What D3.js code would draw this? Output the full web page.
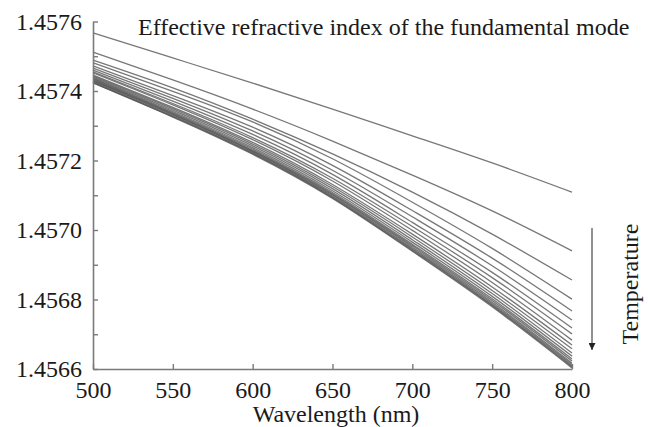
<!DOCTYPE html>
<html>
<head>
<meta charset="utf-8">
<script src="https://cdn.jsdelivr.net/npm/d3@7"></script>
<style>
  body{margin:0;background:#fff;}
  svg{display:block;font-family:"Liberation Serif","Times New Roman",serif;}
</style>
</head>
<body>
<svg id="chart"></svg>
<script>
const width=649;
const height=427;

// wavelengths (nm) at which each curve was read
const wavelengths=[500,550,600,650,700,750,800];

// effective index curves, top (lowest temperature) to bottom (highest)
const n0 =[1.457567,1.457495,1.457423,1.457348,1.457271,1.457193,1.457109];
const n1 =[1.457512,1.457432,1.457348,1.457256,1.457158,1.457055,1.456940];
const n2 =[1.457489,1.457409,1.457319,1.457219,1.457109,1.456988,1.456856];
const n3 =[1.457481,1.457399,1.457311,1.457205,1.457080,1.456947,1.456801];
const n4 =[1.457472,1.457387,1.457296,1.457186,1.457056,1.456919,1.456767];
const n5 =[1.457466,1.457379,1.457285,1.457172,1.457038,1.456897,1.456741];
const n6 =[1.457460,1.457371,1.457275,1.457160,1.457022,1.456878,1.456718];
const n7 =[1.457455,1.457364,1.457266,1.457149,1.457010,1.456863,1.456701];
const n8 =[1.457452,1.457360,1.457260,1.457141,1.456999,1.456849,1.456683];
const n9 =[1.457446,1.457353,1.457252,1.457131,1.456988,1.456836,1.456669];
const n10=[1.457443,1.457349,1.457247,1.457125,1.456980,1.456826,1.456658];
const n11=[1.457440,1.457345,1.457242,1.457119,1.456972,1.456817,1.456646];
const n12=[1.457437,1.457341,1.457237,1.457113,1.456965,1.456809,1.456637];
const n13=[1.457435,1.457338,1.457233,1.457108,1.456959,1.456802,1.456629];
const n14=[1.457432,1.457335,1.457229,1.457104,1.456955,1.456797,1.456623];
const n15=[1.457430,1.457333,1.457227,1.457101,1.456951,1.456792,1.456617];
const n16=[1.457429,1.457331,1.457225,1.457098,1.456947,1.456788,1.456613];
const n17=[1.457426,1.457328,1.457222,1.457095,1.456944,1.456784,1.456609];
const n18=[1.457424,1.457326,1.457220,1.457093,1.456941,1.456782,1.456606];
const n19=[1.457423,1.457325,1.457218,1.457091,1.456939,1.456779,1.456603];
const curves=[n0,n1,n2,n3,n4,n5,n6,n7,n8,n9,n10,n11,n12,n13,n14,n15,n16,n17,n18,n19];

const xTicks=[500,550,600,650,700,750,800];
const yTicks=[1.4566,1.4567,1.4568,1.4569,1.4570,1.4571,1.4572,1.4573,1.4574,1.4575,1.4576];
const yLabelTicks=[1.4566,1.4568,1.4570,1.4572,1.4574,1.4576];

const title='Effective refractive index of the fundamental mode';
const xTitle='Wavelength (nm)';
const arrowLabel='Temperature';

const svg=d3.select('#chart')
  .attr('width',width)
  .attr('height',height);

const x=d3.scaleLinear().domain([500,800]).range([93,572]);
const y=d3.scaleLinear().domain([1.4566,1.4576]).range([369,21.5]);

// curves
const line=d3.line()
  .x((d,i)=>x(wavelengths[i]))
  .y(d=>y(d))
  .curve(d3.curveNatural);

svg.append('g')
  .selectAll('path')
  .data(curves)
  .enter().append('path')
  .attr('d',line)
  .attr('fill','none')
  .attr('stroke','#555')
  .attr('stroke-opacity',0.8)
  .attr('stroke-width',1.3);

// axes
const xAxis=d3.axisBottom(x)
  .tickValues(xTicks)
  .tickFormat(d3.format('d'))
  .tickSize(-5)
  .tickSizeOuter(0)
  .tickPadding(12);

const yAxis=d3.axisLeft(y)
  .tickValues(yTicks)
  .tickFormat(d=>yLabelTicks.some(v=>Math.abs(v-d)<1e-9)?d3.format('.4f')(d):'')
  .tickSize(-5)
  .tickSizeOuter(0)
  .tickPadding(11);

const gx=svg.append('g')
  .attr('transform','translate(0,'+y(1.4566)+')')
  .call(xAxis);

const gy=svg.append('g')
  .attr('transform','translate('+x(500)+',0)')
  .call(yAxis);

[gx,gy].forEach(g=>{
  g.select('.domain').attr('stroke','#7a7a7a').attr('stroke-width',1.6);
  g.selectAll('.tick line').attr('stroke','#7a7a7a').attr('stroke-width',1.4);
  g.selectAll('.tick text')
    .attr('fill','#1a1a1a')
    .style('font-family','"Liberation Serif","Times New Roman",serif')
    .style('font-size','24px');
});

// titles
svg.append('text')
  .attr('x',138)
  .attr('y',35)
  .attr('fill','#1a1a1a')
  .style('font-size','24px')
  .text(title);

svg.append('text')
  .attr('x',336)
  .attr('y',422)
  .attr('text-anchor','middle')
  .attr('fill','#1a1a1a')
  .style('font-size','24px')
  .text(xTitle);

// temperature arrow
svg.append('defs').append('marker')
  .attr('id','arrowhead')
  .attr('viewBox','0 0 10 10')
  .attr('refX',10)
  .attr('refY',5)
  .attr('markerWidth',7)
  .attr('markerHeight',7)
  .attr('markerUnits','userSpaceOnUse')
  .attr('orient','auto')
  .append('path')
  .attr('d','M0,0L10,5L0,10Z')
  .attr('fill','#222');

svg.append('line')
  .attr('x1',592)
  .attr('x2',592)
  .attr('y1',228)
  .attr('y2',350)
  .attr('stroke','#555')
  .attr('stroke-width',1.3)
  .attr('marker-end','url(#arrowhead)');

svg.append('text')
  .attr('transform','translate(638,284) rotate(-90)')
  .attr('text-anchor','middle')
  .attr('fill','#1a1a1a')
  .style('font-size','24px')
  .text(arrowLabel);
</script>
</body>
</html>
